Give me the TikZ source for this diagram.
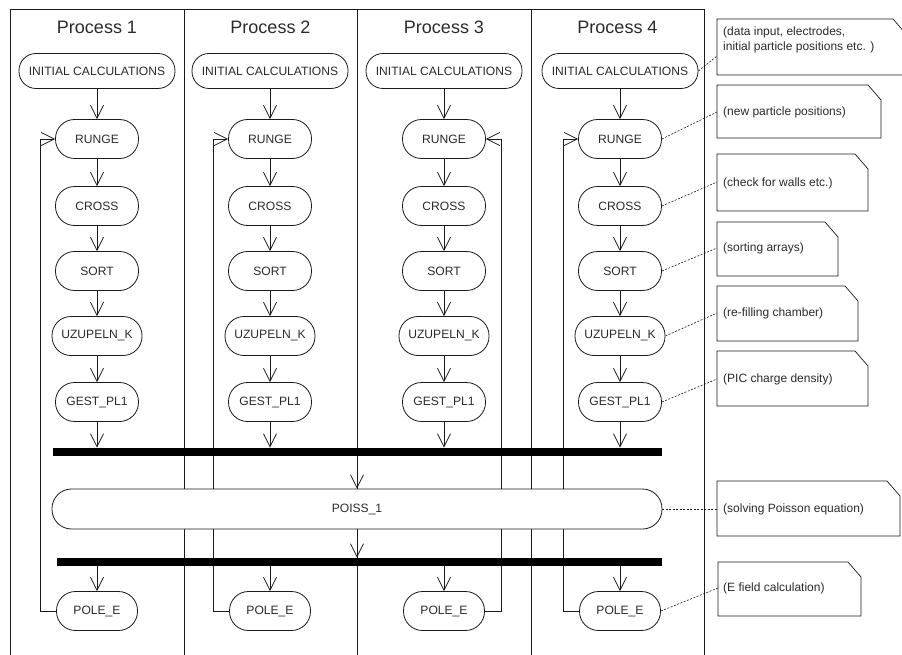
\documentclass[tikz,border=0pt]{standalone}
\usepackage{fontspec}
\setmainfont{Liberation Sans}
\usetikzlibrary{arrows.meta}
\pgfdeclarelayer{background}
\pgfsetlayers{background,main}
\definecolor{txt}{HTML}{2B2B2B}
\definecolor{ln}{HTML}{1A1A1A}
\newcommand\notebox[6]{% name, x1, y1, x2, y2, text-y
  \draw[notestyle] (#2,#3) -- (#4-13,#3) -- (#4,#3+15) -- (#4,#5) -- (#2,#5) -- cycle;
  \coordinate (#1) at (#2,#6);
}
\begin{document}
\begin{tikzpicture}[x=1pt,y=-1pt,line width=0.8pt,draw=ln,
  act/.style={rectangle, rounded corners=19pt, draw=ln, fill=white, minimum width=83pt,
    minimum height=39pt, inner sep=0pt, font=\fontsize{12.1}{13}\selectfont, text=txt},
  title/.style={font=\fontsize{18}{20}\selectfont, text=txt, inner sep=0pt},
  flow/.style={draw=ln, -{Straight Barb[length=13pt,width=13pt,line width=0.8pt]}},
  barstyle/.style={fill=black, draw=none, inner sep=0pt, minimum height=8pt},
  notestyle/.style={draw=ln, fill=white, line width=0.7pt},
  notetext/.style={font=\fontsize{12}{15}\selectfont, text=txt, anchor=west, align=left, inner sep=0pt},
  link/.style={draw=ln, dash pattern=on 2pt off 1.5pt, line width=0.6pt}
]
\useasboundingbox (0,0) rectangle (902,655);

% titles
\foreach \i/\x in {1/97,2/270.5,3/444,4/617.5}
  \node[title] (t\i) at (\x,27) {Process \i};

% activity nodes
\foreach \i/\x in {1/97,2/270,3/444,4/620} {
  \node[act, minimum width=156pt, minimum height=35pt, rounded corners=17pt] (init\i) at (\x,71) {INITIAL CALCULATIONS};
  \node[act] (runge\i) at (\x,139) {RUNGE};
  \node[act] (cross\i) at (\x,206) {CROSS};
  \node[act] (sort\i) at (\x,271) {SORT};
  \node[act, minimum width=90pt] (uzu\i) at (\x,336) {UZUPELN\_K};
  \node[act] (gest\i) at (\x,402) {GEST\_PL1};
  \node[act, minimum width=81pt] (pole\i) at (\x,611) {POLE\_E};
}
\node[act, minimum width=610pt, minimum height=40pt, rounded corners=19.5pt] (poiss) at (357,509) {POISS\_1};
\node[barstyle, minimum width=609pt] (bar1) at (357.5,452) {};
\node[barstyle, minimum width=605pt] (bar2) at (359.5,562) {};

\begin{pgfonlayer}{background}
  % swimlane frame
  \draw[ln, line width=0.9pt] (10,655) -- (10,9) -- (704,9) -- (704,655);
  \foreach \x in {184,357,531} \draw[ln, line width=0.9pt] (\x,9) -- (\x,655);
  % loops back to RUNGE
  \draw[flow] (pole1.west) -- ++(-16,0) |- (runge1.west);
  \draw[flow] (pole2.west) -- ++(-16,0) |- (runge2.west);
  \draw[flow] (pole3.east) -- ++(16,0) |- (runge3.east);
  \draw[flow] (pole4.west) -- ++(-16,0) |- (runge4.west);
  % POISS arrows
  \draw[flow] (poiss.north |- bar1.south) -- (poiss.north);
  \draw[flow] (poiss.south) -- (poiss.south |- bar2.north);
\end{pgfonlayer}

% flow arrows
\foreach \i in {1,2,3,4} {
  \draw[flow] (init\i) -- (runge\i);
  \draw[flow] (runge\i) -- (cross\i);
  \draw[flow] (cross\i) -- (sort\i);
  \draw[flow] (sort\i) -- (uzu\i);
  \draw[flow] (uzu\i) -- (gest\i);
  \draw[flow] (gest\i.south) -- (gest\i.south |- bar1.north);
  \draw[flow] (pole\i.north |- bar2.south) -- (pole\i.north);
}

% notes
\notebox{c1}{717}{19}{906}{75}{56}
\node[notetext] (n1) at (723,39.5) {(data input, electrodes,\\initial particle positions etc. )};
\notebox{c2}{717}{85}{881}{138}{112}
\node[notetext] (n2) at (723,112) {(new particle positions)};
\notebox{c3}{717}{154}{868}{211}{182}
\node[notetext] (n3) at (723,183) {(check for walls etc.)};
\notebox{c4}{717}{222}{838}{276}{248}
\node[notetext] (n4) at (723,248) {(sorting arrays)};
\notebox{c5}{717}{286}{858}{341}{313}
\node[notetext] (n5) at (723,313) {(re-filling chamber)};
\notebox{c6}{717}{351}{868}{406}{379}
\node[notetext] (n6) at (723,379) {(PIC charge density)};
\notebox{c7}{717}{481}{900}{536}{509}
\node[notetext] (n7) at (723,509) {(solving Poisson equation)};
\notebox{c8}{718}{562}{861}{616}{588}
\node[notetext] (n8) at (723,588) {(E field calculation)};

% dashed links
\draw[link] (init4.east) -- (c1);
\draw[link] (runge4.east) -- (c2);
\draw[link] (cross4.east) -- (c3);
\draw[link] (sort4.east) -- (c4);
\draw[link] (uzu4.east) -- (c5);
\draw[link] (gest4.east) -- (c6);
\draw[link] (poiss.east) -- (c7);
\draw[link] (pole4.east) -- (c8);
\end{tikzpicture}
\end{document}
